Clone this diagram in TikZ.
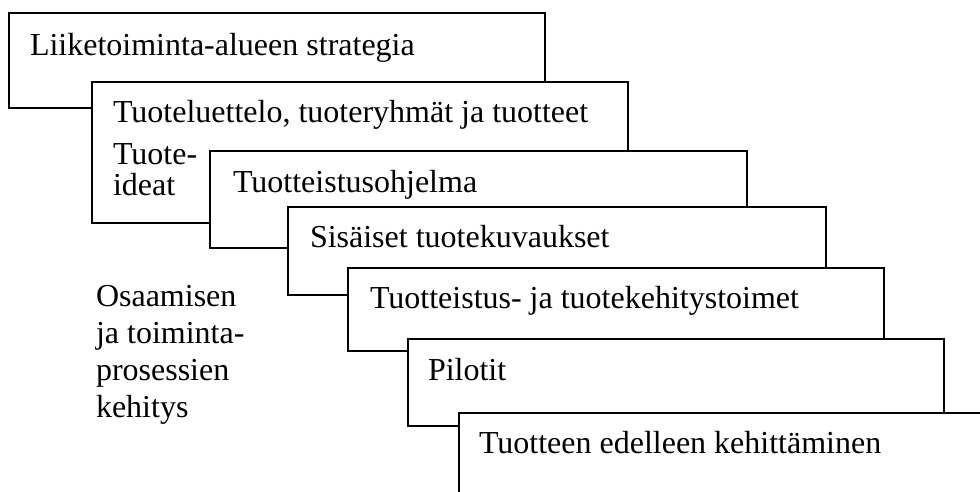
\documentclass[tikz,border=0pt]{standalone}
\usepackage{fontspec}
\setmainfont{Liberation Serif}
\begin{document}
\begin{tikzpicture}[x=1pt,y=-1pt,
  box/.style={draw=black,fill=white,line width=1.6pt,inner sep=0pt,outer sep=0pt},
  lbl/.style={inner sep=0pt,outer sep=0pt,anchor=base west,font=\fontsize{32}{37}\selectfont},
  side/.style={lbl,align=left}]
\useasboundingbox (0,0) rectangle (980,491);
\clip (0,0) rectangle (980,491);
\fill[white] (0,0) rectangle (980,491);
\node[box,minimum width=536pt,minimum height=95pt] (b1) at (277,60.5) {};
\node[lbl] (t1) at (30,55) {Liiketoiminta-alueen strategia};
\node[box,minimum width=536pt,minimum height=141pt] (b2) at (360,152.5) {};
\node[lbl] (t2) at (113,122) {Tuoteluettelo, tuoteryhmät ja tuotteet};
\node[side,font=\fontsize{32}{31}\selectfont] (t2b) at (113,195) {Tuote-\\ideat};
\node[box,minimum width=537pt,minimum height=97pt] (b3) at (478.5,199.5) {};
\node[lbl] (t3) at (233,192) {Tuotteistusohjelma};
\node[box,minimum width=538pt,minimum height=88pt] (b4) at (557,251) {};
\node[lbl] (t4) at (310,247) {Sisäiset tuotekuvaukset};
\node[box,minimum width=536pt,minimum height=83pt] (b5) at (616,309.5) {};
\node[lbl] (t5) at (370,308) {Tuotteistus- ja tuotekehitystoimet};
\node[box,minimum width=536pt,minimum height=87pt] (b6) at (676,382.5) {};
\node[lbl] (t6) at (428,380) {Pilotit};
\node[box,minimum width=560pt,minimum height=120pt] (b7) at (739,473) {};
\node[lbl] (t7) at (479,453) {Tuotteen edelleen kehittäminen};
\node[side] (os) at (96,417) {Osaamisen\\ja toiminta-\\prosessien\\kehitys};
\end{tikzpicture}
\end{document}
